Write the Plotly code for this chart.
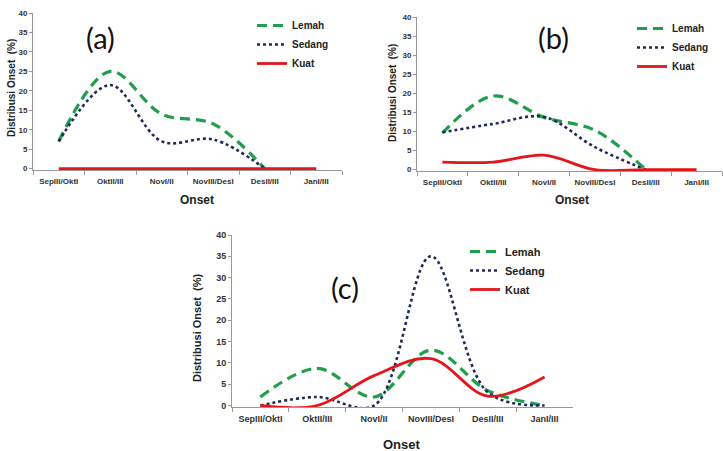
import plotly.graph_objects as go

categories = ["SepIII/OktI", "OktII/III", "NovI/II", "NovIII/DesI", "DesII/III", "JanI/III"]

# Panel (a)
a_lemah = [7, 25, 14, 11.5, 0, None]
a_sedang = [7, 21.5, 7, 7.5, 0, None]
a_kuat = [0, 0, 0, 0, 0, 0]

# Panel (b)
b_lemah = [9.6, 19.3, 13.7, 10.3, 0, None]
b_sedang = [9.8, 12, 13.8, 5.9, 0, None]
b_kuat = [2, 2, 3.8, 0, 0, 0]

# Panel (c)
c_lemah = [2, 8.7, 2, 13, 3.5, 0]
c_sedang = [0, 2, 0, 35, 3.1, 0]
c_kuat = [0, 0, 7, 11, 2.2, 6.7]

yticks = [0, 5, 10, 15, 20, 25, 30, 35, 40]
series_names = ["Lemah", "Sedang", "Kuat"]

GREEN = "#1f9e4c"
NAVY = "#1f2a5a"
RED = "#e5151c"
FONT = "Liberation Sans, Arial, sans-serif"

W, H = 723, 451

def px_x(p):
    return p / W

def px_y(p):
    return 1 - p / H

panels = [
    dict(data=(a_lemah, a_sedang, a_kuat), x=(33, 342), y=(13, 170), leg=(252, 11), lab="(a)", labpos=(100, 37),
         ytitle=(12, 88), xtitle=(197, 200), fs=8, lfs=10),
    dict(data=(b_lemah, b_sedang, b_kuat), x=(417, 722), y=(17, 171), leg=(632, 14), lab="(b)", labpos=(553, 37),
         ytitle=(393, 93), xtitle=(572, 200), fs=8, lfs=10),
    dict(data=(c_lemah, c_sedang, c_kuat), x=(232, 573), y=(235, 407), leg=(465, 237), lab="(c)", labpos=(345, 287),
         ytitle=(197, 327), xtitle=(402, 444), fs=9, lfs=11),
]

fig = go.Figure()
annotations = []
layout = dict(
    width=W, height=H, margin=dict(l=0, r=0, t=0, b=0),
    paper_bgcolor="white", plot_bgcolor="white",
    font=dict(family=FONT, color="#222"),
)

styles = [
    dict(color=GREEN, width=3.2, dash="10px,6px"),
    dict(color=NAVY, width=2.6, dash="dot"),
    dict(color=RED, width=2.8, dash="solid"),
]

for i, p in enumerate(panels):
    n = "" if i == 0 else str(i + 1)
    xa = "x" + n
    ya = "y" + n
    leg = "legend" + n
    for name, vals, st in zip(series_names, p["data"], styles):
        fig.add_trace(go.Scatter(
            x=categories, y=vals, name=name, mode="lines",
            line=dict(shape="spline", smoothing=1, **st),
            xaxis=xa, yaxis=ya, legend=leg, connectgaps=False,
        ))
    layout["xaxis" + n] = dict(
        domain=[px_x(p["x"][0]), px_x(p["x"][1])], anchor=ya,
        type="category", categoryorder="array", categoryarray=categories,
        range=[-0.5, 5.5], tickson="boundaries", ticks="outside", ticklen=4,
        tickcolor="#999", showline=True, linecolor="#999", linewidth=1,
        showgrid=False, zeroline=False, tickangle=0, automargin=False,
        ticklabelstandoff=3,
        tickfont=dict(size=p["fs"], color="#333", weight="bold"),
    )
    layout["yaxis" + n] = dict(
        domain=[px_y(p["y"][1]), px_y(p["y"][0])], anchor=xa,
        range=[-0.35, 40], tickvals=yticks, ticks="outside", ticklen=3,
        tickcolor="#999", showline=True, linecolor="#999", linewidth=1,
        showgrid=False, zeroline=False, automargin=False,
        tickfont=dict(size=p["fs"], color="#333", weight="bold"),
    )
    layout[leg] = dict(
        x=px_x(p["leg"][0]), y=px_y(p["leg"][1]), xanchor="left", yanchor="top",
        bgcolor="rgba(0,0,0,0)", font=dict(size=p["lfs"], color="#222", weight="bold"),
        tracegroupgap=0, itemwidth=30,
    )
    annotations.append(dict(text=p["lab"], x=px_x(p["labpos"][0]), y=px_y(p["labpos"][1]),
                            xref="paper", yref="paper", showarrow=False,
                            xanchor="center", yanchor="middle",
                            font=dict(size=29, color="#111", family="Lato, Open Sans, sans-serif")))
    annotations.append(dict(text="Distribusi Onset  (%)", x=px_x(p["ytitle"][0]), y=px_y(p["ytitle"][1]),
                            xref="paper", yref="paper", showarrow=False, textangle=-90,
                            xanchor="center", yanchor="middle",
                            font=dict(size=p["lfs"], color="#222", weight="bold")))
    annotations.append(dict(text="Onset", x=px_x(p["xtitle"][0]), y=px_y(p["xtitle"][1]),
                            xref="paper", yref="paper", showarrow=False,
                            xanchor="center", yanchor="middle",
                            font=dict(size=p["lfs"] + 2, color="#222", weight="bold")))

layout["annotations"] = annotations
fig.update_layout(**layout)
fig.write_html("out.html", config={"displayModeBar": False})

# remove the default page margin so the figure sits at the window's top-left corner
with open("out.html", "r", encoding="utf-8") as f:
    html = f.read()
html = html.replace("<head>", "<head><style>html,body{margin:0;padding:0;overflow:hidden;}</style>", 1)
with open("out.html", "w", encoding="utf-8") as f:
    f.write(html)
